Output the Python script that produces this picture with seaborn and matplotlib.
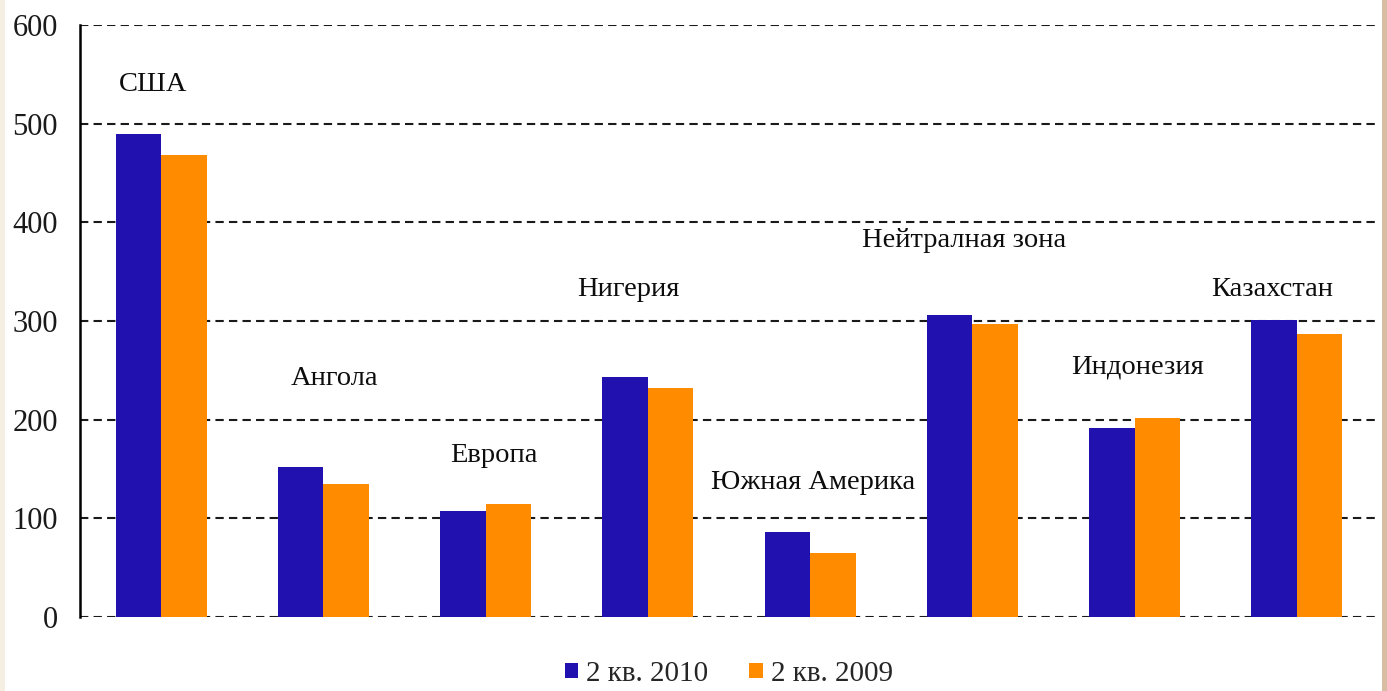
import matplotlib
matplotlib.use("Agg")
import matplotlib.pyplot as plt
import seaborn as sns
import pandas as pd
from matplotlib.patches import Rectangle

categories = ["США", "Ангола", "Европа", "Нигерия", "Южная Америка",
              "Нейтралная зона", "Индонезия", "Казахстан"]
values_2010 = [490, 152, 107, 243, 86, 306, 192, 301]
values_2009 = [468, 135, 115, 232, 65, 297, 202, 287]
series_names = ["2 кв. 2010", "2 кв. 2009"]
yticks = [0, 100, 200, 300, 400, 500, 600]

# label heights (in data units) for the category captions
label_y = [540, 242, 164, 332, 136, 382, 253, 332]
label_dx = [-0.05, 0.07, 0.05, -0.12, 0.02, -0.05, 0.02, -0.15]

df = pd.DataFrame({
    "cat": categories * 2,
    "val": values_2010 + values_2009,
    "series": [series_names[0]] * len(categories) + [series_names[1]] * len(categories),
})

sns.set_theme(style="white")
plt.rcParams["font.family"] = ["Liberation Serif", "DejaVu Serif"]

fig = plt.figure(figsize=(13.87, 6.91), dpi=100)
fig.patch.set_facecolor("white")
ax = fig.add_axes([0.0577, 0.1071, 0.9358, 0.8567])

palette = {series_names[0]: "#2112B0", series_names[1]: "#FF8C00"}
sns.barplot(data=df, x="cat", y="val", hue="series", palette=palette,
            width=0.56, gap=0, saturation=1, ax=ax, legend=True, linewidth=0)

ax.set_ylim(0, 600)
ax.set_xlim(-0.5, len(categories) - 0.5)
ax.set_yticks(yticks)
ax.set_yticklabels([str(t) for t in yticks], fontsize=22, color="#1a1a1a")
ax.set_xticks([])
ax.set_xlabel("")
ax.set_ylabel("")
for t in yticks:
    ax.axhline(t, color="#1a1a1a", linestyle=(0, (4, 2.5)), linewidth=1.5, zorder=0)
for s in ["top", "right", "bottom"]:
    ax.spines[s].set_visible(False)
ax.spines["left"].set_color("black")
ax.spines["left"].set_linewidth(1.8)
ax.tick_params(axis="y", direction="out", length=6, width=1.8, color="black", pad=10)

for i, (name, y) in enumerate(zip(categories, label_y)):
    ax.text(i + label_dx[i], y, name, ha="center", va="center", fontsize=20.5, color="#0d0d0d")

handles, labels = ax.get_legend_handles_labels()
ax.legend(handles, labels, loc="upper center", bbox_to_anchor=(0.5, -0.03),
          ncol=2, frameon=False, fontsize=21, handlelength=0.45, handleheight=0.45,
          handletextpad=0.3, columnspacing=1.4)

# decorative side borders
fig.patches.append(Rectangle((0, 0), 5 / 1387, 1, transform=fig.transFigure,
                             facecolor="#f4efe2", edgecolor="none", zorder=-1))
fig.patches.append(Rectangle((1 - 5 / 1387, 0), 5 / 1387, 1, transform=fig.transFigure,
                             facecolor="#d8bda3", edgecolor="none", zorder=-1))

fig.savefig("out.png", dpi=100)
